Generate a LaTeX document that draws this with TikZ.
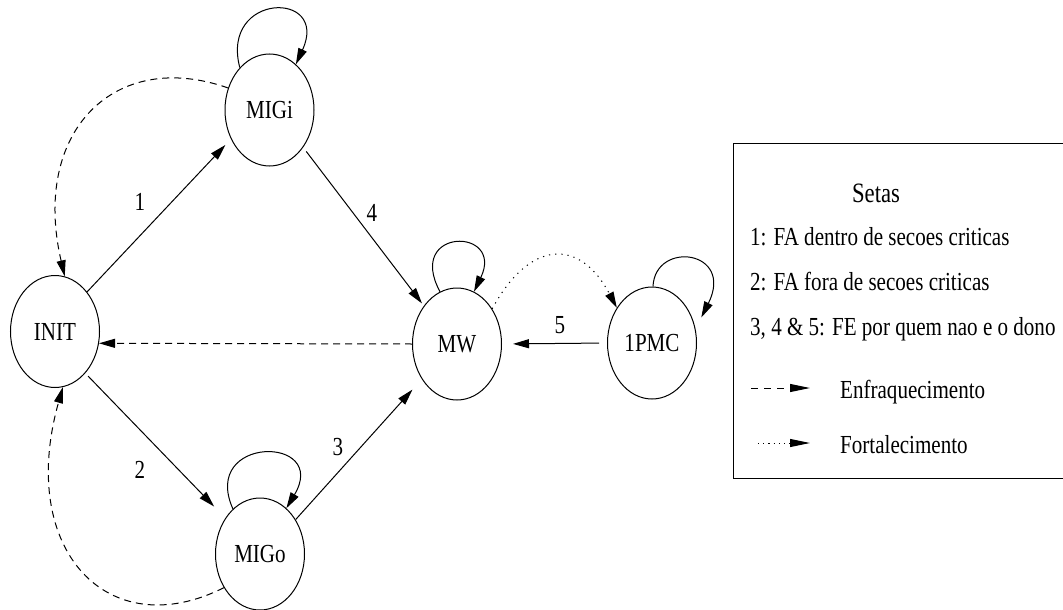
\documentclass[tikz,border=0pt]{standalone}
\usepackage{fontspec}
\setmainfont{Liberation Serif}[FakeStretch=0.81]
\usetikzlibrary{arrows.meta,shapes.geometric}
\begin{document}
\begin{tikzpicture}[x=1pt,y=-1pt,
  every node/.style={font=\fontsize{26pt}{30pt}\selectfont},
  stnode/.style={draw, ellipse, minimum width=89pt, minimum height=112pt, inner sep=0pt, line width=1pt},
  conn/.style={line width=1pt, -{Triangle[length=16pt,width=9pt]}},
  weak/.style={conn, dash pattern=on 7pt off 5pt},
  strong/.style={conn, dash pattern=on 1.2pt off 5pt},
  legarrow/.style={line width=1pt, -{Triangle[length=20pt,width=8pt]}},
  lbl/.style={inner sep=0pt},
  legtext/.style={anchor=base west, inner sep=0pt}
]
\useasboundingbox (0,0) rectangle (1063,610);

% states
\node[stnode] (INIT) at (55,331.5) {INIT};
\node[stnode] (MIGi) at (269.5,110) {MIGi};
\node[stnode] (MIGo) at (260,554) {MIGo};
\node[stnode] (MW) at (457,344) {MW};
\node[stnode] (PMC) at (652,343) {1PMC};

% straight transitions
\draw[conn, shorten >=8pt] (INIT.51) -- (MIGi.217);
\draw[conn, shorten <=4pt, shorten >=16pt] (INIT.306) -- (MIGo.134);
\draw[conn, shorten >=14pt] (MIGo.44) -- (MW.225);
\draw[conn, shorten <=5pt, shorten >=3pt] (MIGi.312) -- (MW.131);
\draw[conn, shorten <=8pt, shorten >=11pt] (PMC.west) -- (MW.east);
\draw[weak] (MW.west) -- (INIT.-15);

% curved transitions
\draw[weak] (MIGi.152) .. controls (115,48) and (31,131) .. (INIT.80);
\draw[weak] (MIGo.223) .. controls (108,646) and (17,550) .. (INIT.278);
\draw[strong] (MW.45) .. controls (530,239) and (580,238) .. (PMC.135);

% self loops
\draw[conn] (MIGi.125) .. controls (220,-8) and (330,-10) .. (MIGi.60);
\draw[conn] (MW.108) .. controls (405,227) and (505,227) .. (MW.72);
\draw[conn] (PMC.89) .. controls (655,240) and (735,250) .. ([shift={(10pt,-2pt)}]PMC.35);
\draw[conn] (MIGo.121) .. controls (200,435) and (330,435) .. (MIGo.60);

% edge labels
\node[lbl] (l1) at (140,202) {1};
\node[lbl] (l2) at (140,470) {2};
\node[lbl] (l3) at (338,447) {3};
\node[lbl] (l4) at (372,213) {4};
\node[lbl] (l5) at (560,325) {5};

% legend
\draw[line width=1pt] (1064,143) -| (733,478) -- (1064,478);
\node[anchor=base, inner sep=0pt, font=\fontsize{28pt}{32pt}\selectfont] (setas) at (876,202) {Setas};
\node[legtext] (t1) at (750,245) {1: FA dentro de secoes criticas};
\node[legtext] (t2) at (750,290) {2: FA fora de secoes criticas};
\node[legtext] (t3) at (750,335) {3, 4 \& 5: FE por quem nao e o dono};
\node[legtext] (t4) at (840,398.5) {Enfraquecimento};
\node[legtext] (t5) at (840,453.5) {Fortalecimento};
\coordinate (da) at (751,388);
\coordinate (db) at (810,388);
\coordinate (fa) at (758,443);
\coordinate (fb) at (810,443);
\draw[legarrow, dash pattern=on 7pt off 6pt] (da) -- (db);
\draw[legarrow, dash pattern=on 1.2pt off 4pt] (fa) -- (fb);
\end{tikzpicture}
\end{document}
